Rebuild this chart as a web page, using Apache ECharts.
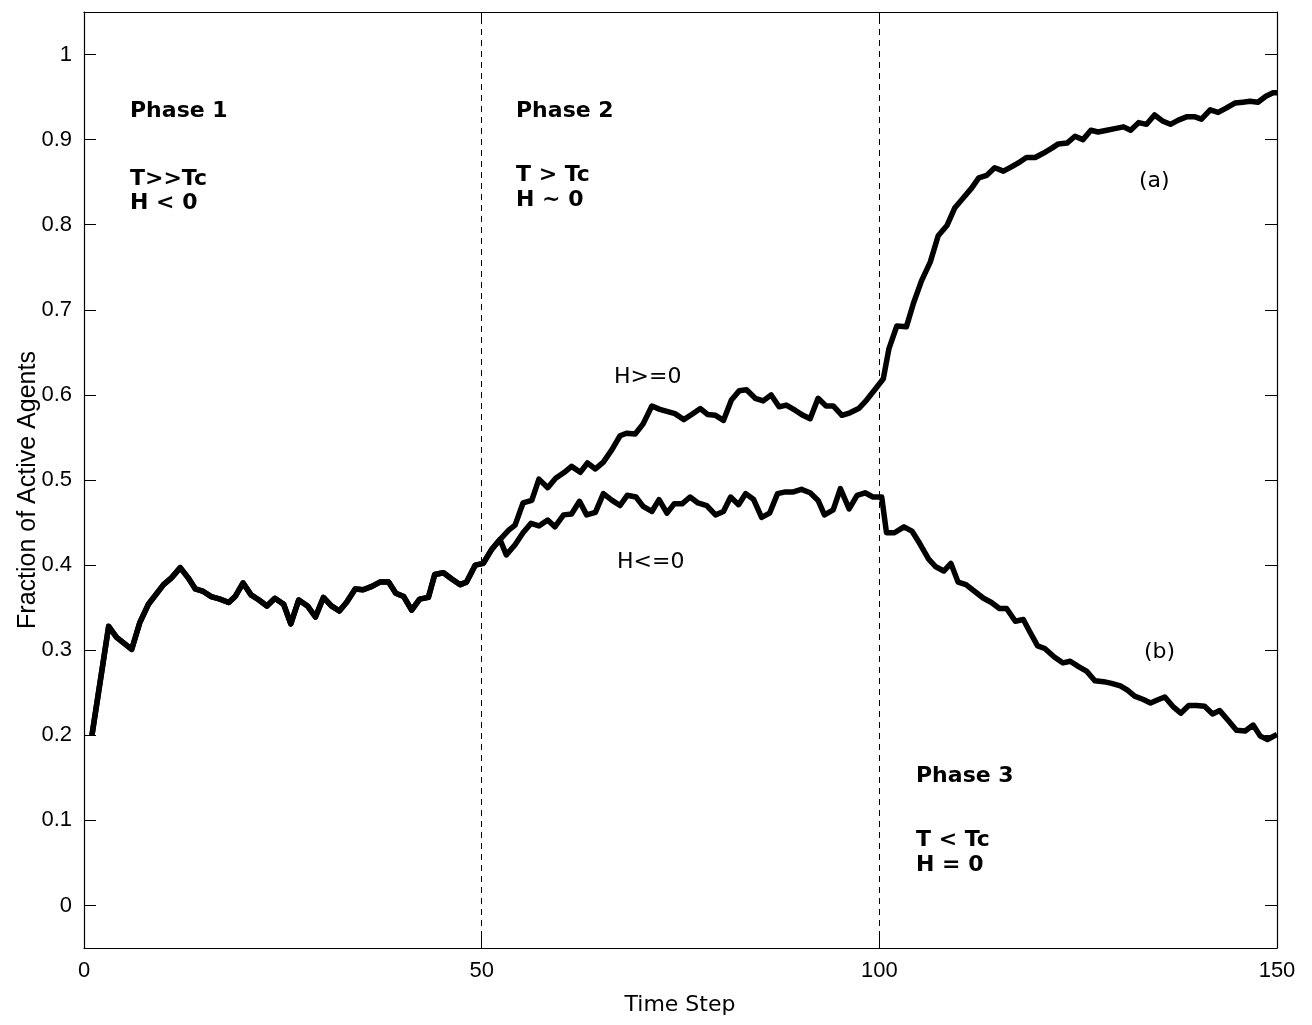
<!DOCTYPE html>
<html>
<head>
<meta charset="utf-8">
<script src="https://cdn.jsdelivr.net/npm/echarts@6/dist/echarts.min.js"></script>
<style>
html,body{margin:0;padding:0;background:#fff;}
#chart{width:1312px;height:1025px;}
</style>
</head>
<body>
<div id="chart"></div>
<script>
// ---- data ----
const sharedTime = [1.0,3.1,4.1,6.0,7.0,8.1,10.0,11.0,12.1,13.1,14.0,15.0,16.0,17.1,18.2,19.0,20.0,21.0,22.0,23.0,24.0,25.1,26.0,27.0,28.1,29.1,30.1,31.1,32.1,33.0,34.1,35.1,36.2,37.2,38.3,39.2,40.2,41.2,42.2,43.3,44.1,45.2,46.2,47.3,48.1,49.2,50.2,51.3,52.3];
const sharedValues = [0.200,0.328,0.315,0.301,0.332,0.354,0.377,0.385,0.397,0.385,0.372,0.369,0.363,0.360,0.356,0.363,0.379,0.365,0.359,0.352,0.361,0.354,0.331,0.359,0.352,0.339,0.362,0.352,0.346,0.356,0.372,0.371,0.375,0.380,0.380,0.367,0.363,0.347,0.360,0.362,0.389,0.391,0.384,0.377,0.380,0.400,0.402,0.419,0.430];

const highTime = [53.4,54.2,55.2,56.3,57.2,58.3,59.3,60.4,61.3,62.4,63.3,64.3,65.3,66.4,67.4,68.2,69.3,70.3,71.4,72.4,74.3,75.4,76.4,77.5,78.4,79.4,80.4,81.4,82.4,83.3,84.4,85.4,86.4,87.4,88.3,89.4,90.4,91.3,92.3,93.3,94.2,95.3,96.3,97.4,98.4,99.5,100.5,101.2,102.2,103.4,104.3,105.3,106.4,107.4,108.5,109.5,110.6,111.6,112.5,113.5,114.5,115.6,116.6,117.7,118.5,119.6,120.6,121.7,122.5,123.6,124.6,125.6,126.6,127.5,128.6,129.6,130.7,131.6,132.6,133.6,134.6,135.6,136.6,137.6,138.7,139.6,140.5,141.6,142.6,143.6,144.7,145.7,146.6,147.6,148.6,149.5,150.0];
const highValues = [0.441,0.447,0.473,0.476,0.501,0.491,0.502,0.509,0.516,0.509,0.520,0.513,0.521,0.536,0.552,0.555,0.554,0.566,0.587,0.583,0.578,0.571,0.577,0.584,0.577,0.576,0.570,0.594,0.605,0.606,0.596,0.593,0.600,0.586,0.588,0.582,0.576,0.572,0.596,0.587,0.587,0.576,0.579,0.584,0.594,0.607,0.619,0.654,0.681,0.680,0.708,0.734,0.756,0.787,0.799,0.820,0.832,0.843,0.855,0.858,0.867,0.863,0.868,0.874,0.879,0.879,0.884,0.890,0.895,0.896,0.904,0.900,0.911,0.909,0.911,0.913,0.915,0.911,0.920,0.918,0.929,0.922,0.918,0.923,0.927,0.927,0.924,0.935,0.932,0.937,0.943,0.944,0.945,0.944,0.951,0.955,0.955];

const lowTime = [53.1,54.2,55.2,56.2,57.2,58.3,59.2,60.3,61.3,62.3,63.2,64.3,65.3,66.4,67.4,68.3,69.4,70.3,71.4,72.3,73.3,74.2,75.2,76.2,77.2,78.3,79.4,80.4,81.3,82.3,83.2,84.2,85.2,86.2,87.2,88.2,89.2,90.2,91.3,92.3,93.1,94.2,95.1,96.2,97.2,98.2,99.2,100.3,100.9,101.9,103.1,104.1,105.1,106.2,107.1,108.1,109.0,109.9,110.9,112.0,113.1,114.1,115.1,116.0,117.1,118.1,118.9,119.9,120.8,122.0,123.1,124.0,125.0,126.1,127.1,128.2,129.2,130.3,131.2,132.1,133.2,134.1,135.1,135.9,137.0,137.9,138.9,139.9,140.9,141.9,142.8,143.9,144.9,146.0,147.0,147.9,148.8,150.0];
const lowValues = [0.412,0.424,0.438,0.449,0.446,0.453,0.445,0.459,0.460,0.475,0.459,0.462,0.484,0.476,0.470,0.482,0.480,0.469,0.463,0.477,0.461,0.472,0.472,0.480,0.473,0.470,0.459,0.463,0.480,0.471,0.484,0.477,0.456,0.461,0.484,0.486,0.486,0.489,0.485,0.476,0.459,0.465,0.490,0.466,0.482,0.485,0.480,0.480,0.438,0.438,0.445,0.440,0.425,0.407,0.398,0.393,0.402,0.380,0.377,0.369,0.361,0.356,0.349,0.349,0.334,0.336,0.322,0.305,0.302,0.292,0.285,0.287,0.281,0.275,0.264,0.263,0.261,0.258,0.253,0.246,0.242,0.238,0.242,0.245,0.233,0.226,0.235,0.235,0.234,0.225,0.229,0.217,0.206,0.205,0.212,0.199,0.195,0.201];

const yTicks = [0,0.1,0.2,0.3,0.4,0.5,0.6,0.7,0.8,0.9,1];
const xTicks = [0,50,100,150];
const phaseBoundaries = [50,100];

// ---- build ----
const zip = (t, v) => t.map((x, i) => [x, v[i]]);
const sharedData = zip(sharedTime, sharedValues);
const highData = sharedData.concat(zip(highTime, highValues));
const lowData = sharedData.concat(zip(lowTime, lowValues));

const FONT = "'Liberation Sans', Arial, Helvetica, sans-serif";
const DJ = "'DejaVu Sans', sans-serif";

const chart = echarts.init(document.getElementById('chart'), null, {renderer: 'canvas'});

function yAxisDef(pos, showLabel) {
  return {
    type: 'value', position: pos, min: -0.05, max: 1.05,
    axisLine: {show: true, onZero: false, lineStyle: {color: '#000', width: 1.2}},
    axisTick: {show: true, inside: true, length: 12, customValues: yTicks, lineStyle: {color: '#000', width: 1}},
    axisLabel: {show: showLabel, customValues: yTicks, margin: 12, color: '#000', fontSize: 22, fontFamily: FONT,
      formatter: v => String(v)},
    splitLine: {show: false}
  };
}
function xAxisDef(pos, showLabel) {
  return {
    type: 'value', position: pos, min: 0, max: 150, interval: 50,
    axisLine: {show: true, onZero: false, lineStyle: {color: '#000', width: 1.2}},
    axisTick: {show: true, inside: true, length: 12, customValues: xTicks, lineStyle: {color: '#000', width: 1}},
    axisLabel: {show: showLabel, customValues: xTicks, margin: 12, color: '#000', fontSize: 22, fontFamily: FONT},
    splitLine: {show: false}
  };
}

function txt(x, y, s, bold, size, font) {
  return {type: 'text', x: x, y: y, silent: true,
    style: {text: s, fill: '#000', font: (bold ? 'bold ' : '') + (size || 22) + 'px ' + (font || DJ),
      textAlign: 'left', textVerticalAlign: 'middle'}};
}

const option = {
  animation: false,
  backgroundColor: '#fff',
  grid: {left: 84, right: 35, top: 12, bottom: 77, containLabel: false},
  xAxis: [xAxisDef('bottom', true), xAxisDef('top', false)],
  yAxis: [yAxisDef('left', true), yAxisDef('right', false)],
  series: [
    {type: 'line', name: 'H>=0', data: highData, xAxisIndex: 0, yAxisIndex: 0,
      showSymbol: false, symbol: 'none', lineStyle: {color: '#000', width: 5.5, join: 'round'},
      markLine: {silent: true, symbol: ['none', 'none'], label: {show: false},
        lineStyle: {color: '#000', width: 1, type: [6, 5]},
        data: phaseBoundaries.map(v => ({xAxis: v}))}},
    {type: 'line', name: 'H<=0', data: lowData, xAxisIndex: 0, yAxisIndex: 0,
      showSymbol: false, symbol: 'none', lineStyle: {color: '#000', width: 5.5, join: 'round'}}
  ],
  graphic: [
    txt(130, 111.5, 'Phase 1', true),
    txt(130, 179, 'T>>Tc', true),
    txt(130, 203, 'H < 0', true),
    txt(516, 111.5, 'Phase 2', true),
    txt(516, 175, 'T > Tc', true),
    txt(516, 200, 'H ~ 0', true),
    txt(916, 776, 'Phase 3', true),
    txt(916, 840, 'T < Tc', true),
    txt(916, 865, 'H = 0', true),
    txt(614, 377, 'H>=0', false),
    txt(617, 562, 'H<=0', false),
    txt(1139, 181, '(a)', false),
    txt(1144, 652, '(b)', false),
    {type: 'text', x: 680, y: 1005, silent: true,
      style: {text: 'Time Step', fill: '#000', font: '22px ' + DJ, textAlign: 'center', textVerticalAlign: 'middle'}},
    {type: 'text', x: 28, y: 490, rotation: Math.PI / 2, silent: true,
      style: {text: 'Fraction of Active Agents', fill: '#000', font: '25px ' + FONT, textAlign: 'center', textVerticalAlign: 'middle'}}
  ]
};
chart.setOption(option);
</script>
</body>
</html>
